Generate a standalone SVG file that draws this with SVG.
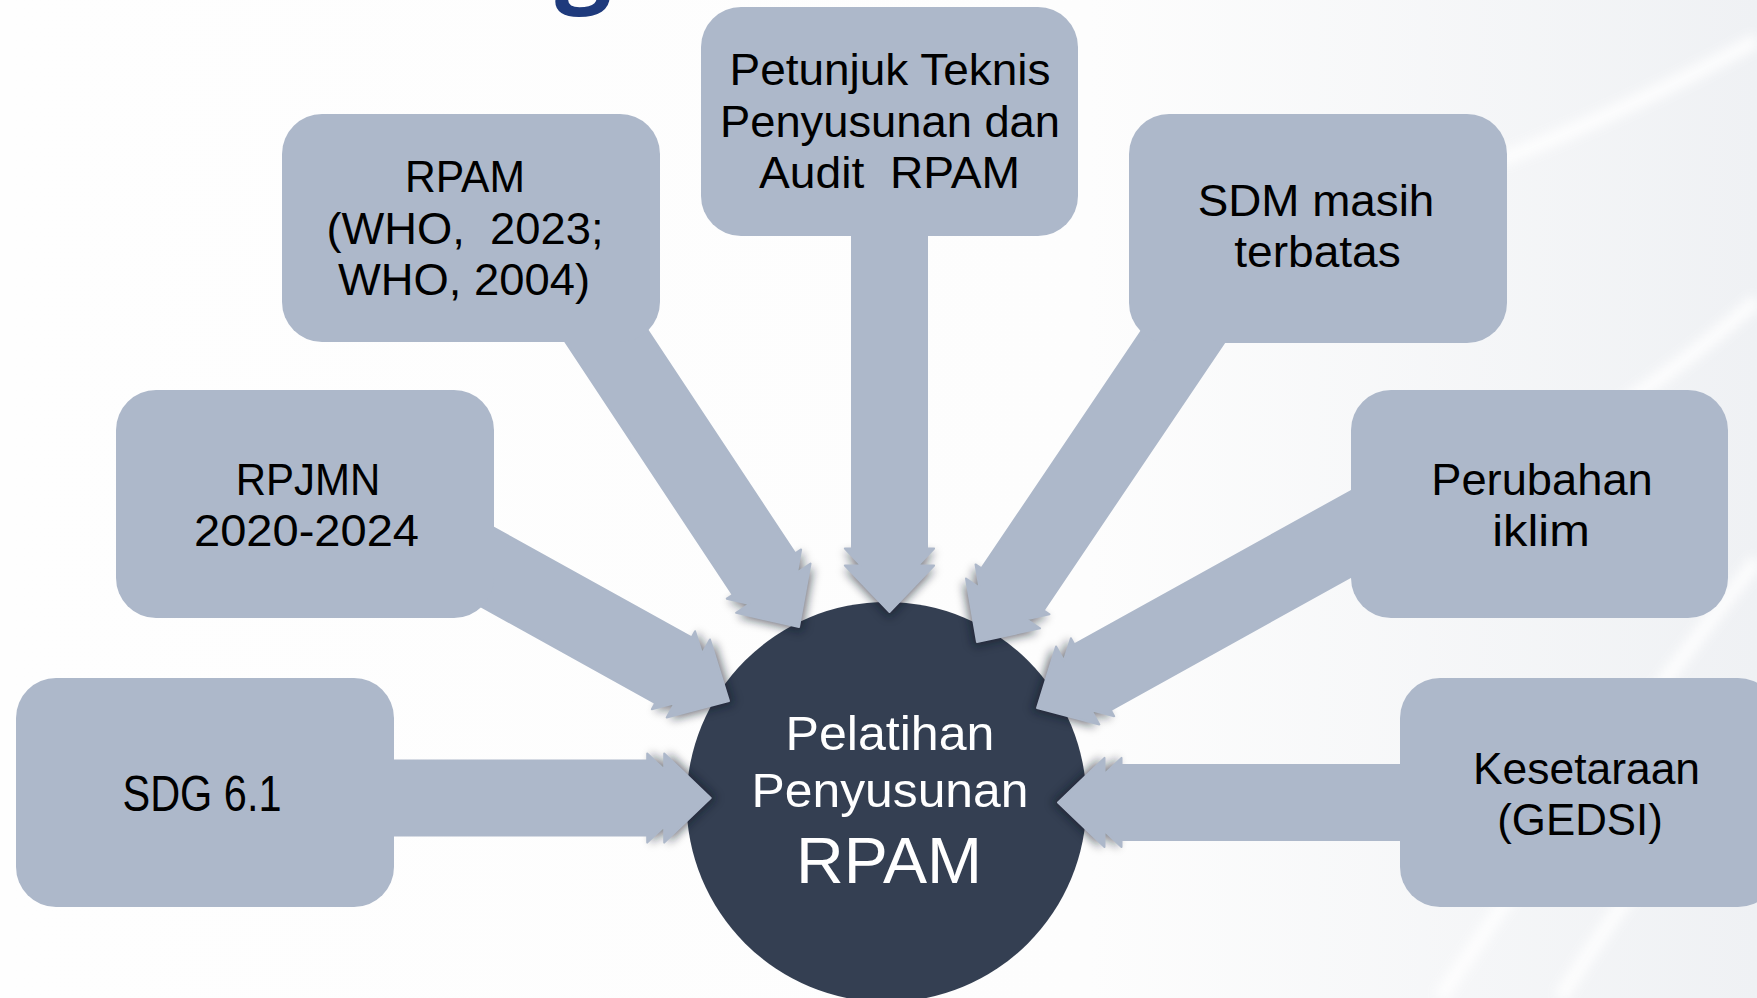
<svg xmlns="http://www.w3.org/2000/svg" xmlns:xlink="http://www.w3.org/1999/xlink" width="1757" height="998" viewBox="0 0 1757 998">
  <defs>
    <linearGradient id="bg" x1="0" y1="0" x2="1" y2="0">
      <stop offset="0" stop-color="#FEFEFE"/>
      <stop offset="0.62" stop-color="#FDFDFD"/>
      <stop offset="1" stop-color="#EFF1F4"/>
    </linearGradient>
    <filter id="blur" x="-50%" y="-50%" width="200%" height="200%">
      <feGaussianBlur stdDeviation="5"/>
    </filter>
    <filter id="soft" x="-20%" y="-20%" width="140%" height="140%">
      <feGaussianBlur stdDeviation="6"/>
    </filter>
    <path id="head" d="M-63.5,-46 L-46.5,-30 L-46.5,-46 L2,0 L-46.5,46 L-46.5,30 L-63.5,46 Z"/>
    <style>
      .box { fill: #ADB8CA; }
      .arrow { fill: #ADB8CA; stroke: #ADB8CA; stroke-width: 2; stroke-linejoin: round; }
      .shadow { fill: #0E1420; opacity: 0.55; filter: url(#blur); }
      .hub { fill: #343F52; }
      .lbl { font-family: "Liberation Sans", Arial, sans-serif; font-size: 45px; fill: #000000; text-anchor: middle; white-space: pre; }
      .hubtxt { font-family: "Liberation Sans", Arial, sans-serif; fill: #FFFFFF; text-anchor: middle; }
      .streak { fill: none; stroke: #FFFFFF; stroke-width: 14; opacity: 0.9; filter: url(#soft); }
    </style>
  </defs>

  <rect x="0" y="0" width="1757" height="998" fill="url(#bg)"/>
  <g id="background-streaks">
    <path class="streak" d="M1440,998 Q1600,760 1757,560"/>
    <path class="streak" d="M1560,998 Q1660,840 1757,740"/>
    <path class="streak" d="M1500,160 Q1630,110 1757,40"/>
    <path class="streak" d="M1600,420 Q1690,360 1757,300"/>
  </g>
  <text x="555" y="-7" font-family="Open Sans, Noto Sans, sans-serif" font-weight="700" font-size="100" fill="#1E3A7C">g</text>

  <g id="hub">
    <circle class="hub" cx="886.5" cy="802" r="200"/>
  </g>

  <g id="connectors">
    <g transform="translate(710.7,798) rotate(0)">
      <use xlink:href="#head" href="#head" class="shadow" transform="translate(4,0)"/>
      <path class="arrow" d="M-331,-37.5 L-63.5,-37.5 L-63.5,-44.6 L-46.5,-28.5 L-46.5,-44.6 L0,0 L-46.5,44.6 L-46.5,28.5 L-63.5,44.6 L-63.5,37.5 L-331,37.5 Z"/>
    </g>
    <g transform="translate(729,701) rotate(29)">
      <use xlink:href="#head" href="#head" class="shadow" transform="translate(4,0)"/>
      <path class="arrow" d="M-320,-37.5 L-63.5,-37.5 L-63.5,-44.6 L-46.5,-28.5 L-46.5,-44.6 L0,0 L-46.5,44.6 L-46.5,28.5 L-63.5,44.6 L-63.5,37.5 L-320,37.5 Z"/>
    </g>
    <g transform="translate(799,627) rotate(56.5)">
      <use xlink:href="#head" href="#head" class="shadow" transform="translate(4,0)"/>
      <path class="arrow" d="M-380,-37.5 L-63.5,-37.5 L-63.5,-44.6 L-46.5,-28.5 L-46.5,-44.6 L0,0 L-46.5,44.6 L-46.5,28.5 L-63.5,44.6 L-63.5,37.5 L-380,37.5 Z"/>
    </g>
    <g transform="translate(889.5,612) rotate(90)">
      <use xlink:href="#head" href="#head" class="shadow" transform="translate(4,0)"/>
      <path class="arrow" d="M-392,-37.5 L-63.5,-37.5 L-63.5,-44.6 L-46.5,-28.5 L-46.5,-44.6 L0,0 L-46.5,44.6 L-46.5,28.5 L-63.5,44.6 L-63.5,37.5 L-392,37.5 Z"/>
    </g>
    <g transform="translate(977,642) rotate(124)">
      <use xlink:href="#head" href="#head" class="shadow" transform="translate(4,0)"/>
      <path class="arrow" d="M-400,-37.5 L-63.5,-37.5 L-63.5,-44.6 L-46.5,-28.5 L-46.5,-44.6 L0,0 L-46.5,44.6 L-46.5,28.5 L-63.5,44.6 L-63.5,37.5 L-400,37.5 Z"/>
    </g>
    <g transform="translate(1037,708) rotate(151)">
      <use xlink:href="#head" href="#head" class="shadow" transform="translate(4,0)"/>
      <path class="arrow" d="M-400,-37.5 L-63.5,-37.5 L-63.5,-44.6 L-46.5,-28.5 L-46.5,-44.6 L0,0 L-46.5,44.6 L-46.5,28.5 L-63.5,44.6 L-63.5,37.5 L-400,37.5 Z"/>
    </g>
    <g transform="translate(1058,802.5) rotate(180)">
      <use xlink:href="#head" href="#head" class="shadow" transform="translate(4,0)"/>
      <path class="arrow" d="M-362,-37.5 L-63.5,-37.5 L-63.5,-44.6 L-46.5,-28.5 L-46.5,-44.6 L0,0 L-46.5,44.6 L-46.5,28.5 L-63.5,44.6 L-63.5,37.5 L-362,37.5 Z"/>
    </g>
  </g>

  <g id="node-sdg">
    <rect class="box" x="16" y="678" width="378" height="229" rx="40"/>
    <text class="lbl" x="202" y="810.5" style="font-size:50px" textLength="159" lengthAdjust="spacingAndGlyphs">SDG 6.1</text>
  </g>
  <g id="node-rpjmn">
    <rect class="box" x="116" y="390" width="378" height="228" rx="40"/>
    <text class="lbl"><tspan x="308" y="494.7" textLength="144.5" lengthAdjust="spacingAndGlyphs">RPJMN</tspan><tspan x="306.5" y="546" textLength="225" lengthAdjust="spacingAndGlyphs">2020-2024</tspan></text>
  </g>
  <g id="node-rpam">
    <rect class="box" x="282" y="114" width="378" height="228" rx="40"/>
    <text class="lbl"><tspan x="465" y="191.5" textLength="120" lengthAdjust="spacingAndGlyphs">RPAM</tspan><tspan x="465" y="243.8" textLength="277" lengthAdjust="spacingAndGlyphs">(WHO,  2023;</tspan><tspan x="464" y="295.2" textLength="252" lengthAdjust="spacingAndGlyphs">WHO, 2004)</tspan></text>
  </g>
  <g id="node-petunjuk">
    <rect class="box" x="701" y="7" width="377" height="229" rx="40"/>
    <text class="lbl"><tspan x="890" y="85" textLength="321" lengthAdjust="spacingAndGlyphs">Petunjuk Teknis</tspan><tspan x="890" y="136.7" textLength="340" lengthAdjust="spacingAndGlyphs">Penyusunan dan</tspan><tspan x="889.5" y="188.3" textLength="261" lengthAdjust="spacingAndGlyphs">Audit  RPAM</tspan></text>
  </g>
  <g id="node-sdm">
    <rect class="box" x="1129" y="114" width="378" height="229" rx="40"/>
    <text class="lbl"><tspan x="1316" y="215.5" textLength="236.6" lengthAdjust="spacingAndGlyphs">SDM masih</tspan><tspan x="1317.5" y="266.5" textLength="166.6" lengthAdjust="spacingAndGlyphs">terbatas</tspan></text>
  </g>
  <g id="node-perubahan">
    <rect class="box" x="1351" y="390" width="377" height="228" rx="40"/>
    <text class="lbl"><tspan x="1542" y="494.6" textLength="221.6" lengthAdjust="spacingAndGlyphs">Perubahan</tspan><tspan x="1541" y="546" textLength="97.5" lengthAdjust="spacingAndGlyphs">iklim</tspan></text>
  </g>
  <g id="node-kesetaraan">
    <rect class="box" x="1400" y="678" width="378" height="229" rx="40"/>
    <text class="lbl"><tspan x="1586.5" y="783.5" textLength="227" lengthAdjust="spacingAndGlyphs">Kesetaraan</tspan><tspan x="1580" y="835" textLength="165.5" lengthAdjust="spacingAndGlyphs">(GEDSI)</tspan></text>
  </g>

  <g id="hub-label">
    <text class="hubtxt"><tspan x="890" y="750" style="font-size:49px" textLength="209" lengthAdjust="spacingAndGlyphs">Pelatihan</tspan><tspan x="890" y="807" style="font-size:48px" textLength="277" lengthAdjust="spacingAndGlyphs">Penyusunan</tspan><tspan x="889" y="883" style="font-size:65px" textLength="186" lengthAdjust="spacingAndGlyphs">RPAM</tspan></text>
  </g>
</svg>
